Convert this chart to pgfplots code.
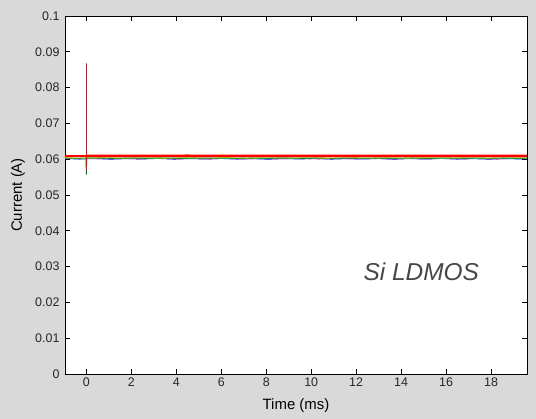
\documentclass[border=0pt]{standalone}
\usepackage{fontspec}
\setmainfont{Liberation Sans}
\usepackage{pgfplots}
\pgfplotsset{compat=1.18}
\definecolor{figbg}{RGB}{217,217,217}
\definecolor{txt}{RGB}{38,38,38}
\definecolor{mgreen}{RGB}{0,128,0}
\definecolor{mcyan}{RGB}{0,191,191}
\definecolor{mmag}{RGB}{191,0,191}
\definecolor{myel}{RGB}{191,191,0}
\begin{document}
\begin{tikzpicture}
\fill[figbg] (0,0) rectangle (536bp,419bp);
\begin{axis}[
  at={(65bp,45bp)}, anchor=south west,
  scale only axis, width=462bp, height=358bp,
  xmin=-0.95, xmax=19.6, ymin=0, ymax=0.1,
  xtick={0,2,4,6,8,10,12,14,16,18},
  xticklabels={0,2,4,6,8,10,12,14,16,18},
  ytick={0,0.01,0.02,0.03,0.04,0.05,0.06,0.07,0.08,0.09,0.1},
  yticklabels={0,0.01,0.02,0.03,0.04,0.05,0.06,0.07,0.08,0.09,0.1},
  /pgf/number format/assume math mode=true,
  tick align=inside, xtick pos=both, ytick pos=both,
  major tick length=5bp,
  tick style={black, line width=0.6bp},
  axis line style={black, line width=0.8bp},
  axis background/.style={fill=white},
  tick label style={font=\fontsize{12.5}{14}\selectfont, text=txt},
  yticklabel style={xshift=-2bp},
  xlabel={Time (ms)}, ylabel={Current (A)},
  label style={font=\fontsize{15}{18}\selectfont, text=black},
  xlabel style={at={(axis description cs:0.5,-0.087)}, anchor=center},
  ylabel style={at={(axis description cs:-0.1017,0.5)}, anchor=center},
  every axis plot/.append style={line width=0.8bp},
  clip=true,
]
% blue
\addplot[blue] coordinates {(-0.95,0.06020)(-0.3,0.06002)(0.4,0.06018)(1.1,0.06000)(1.8,0.06015)(2.5,0.06006)(3.2,0.06020)(3.9,0.06001)(4.6,0.06016)(5.3,0.06004)(6.0,0.06019)(6.7,0.06002)(7.4,0.06014)(8.1,0.05999)(8.8,0.06017)(9.5,0.06005)(10.2,0.06020)(10.9,0.06001)(11.6,0.06015)(12.3,0.06003)(13.0,0.06018)(13.7,0.06000)(14.4,0.06016)(15.1,0.06004)(15.8,0.06019)(16.5,0.06002)(17.2,0.06014)(17.9,0.06000)(18.6,0.06017)(19.3,0.06006)(19.6,0.06012)};
% magenta
\addplot[mmag] coordinates {(-0.95,0.06012)(-0.1,0.06026)(0.7,0.06010)(1.5,0.06024)(2.3,0.06008)(3.1,0.06025)(3.9,0.06011)(4.7,0.06023)(5.5,0.06009)(6.3,0.06026)(7.1,0.06010)(7.9,0.06024)(8.7,0.06012)(9.5,0.06025)(10.3,0.06008)(11.1,0.06023)(11.9,0.06011)(12.7,0.06026)(13.5,0.06009)(14.3,0.06024)(15.1,0.06010)(15.9,0.06025)(16.7,0.06012)(17.5,0.06023)(18.3,0.06008)(19.1,0.06024)(19.6,0.06015)};
% cyan
\addplot[mcyan] coordinates {(-0.95,0.06030)(-0.2,0.06018)(0.6,0.06032)(1.4,0.06020)(2.2,0.06033)(3.0,0.06017)(3.8,0.06031)(4.6,0.06021)(5.4,0.06034)(6.2,0.06019)(7.0,0.06030)(7.8,0.06018)(8.6,0.06033)(9.4,0.06020)(10.2,0.06031)(11.0,0.06017)(11.8,0.06034)(12.6,0.06021)(13.4,0.06030)(14.2,0.06019)(15.0,0.06032)(15.8,0.06018)(16.6,0.06033)(17.4,0.06020)(18.2,0.06031)(19.0,0.06018)(19.6,0.06030)};
% green
\addplot[mgreen] coordinates {(-0.95,0.06035)(-0.4,0.06022)(-0.02,0.06030)(0,0.05570)(0.02,0.06030)(0.5,0.06036)(1.2,0.06021)(1.9,0.06034)(2.6,0.06024)(3.3,0.06037)(4.0,0.06022)(4.7,0.06035)(5.4,0.06023)(6.1,0.06036)(6.8,0.06021)(7.5,0.06034)(8.2,0.06024)(8.9,0.06037)(9.6,0.06022)(10.3,0.06035)(11.0,0.06021)(11.7,0.06036)(12.4,0.06023)(13.1,0.06034)(13.8,0.06022)(14.5,0.06037)(15.2,0.06021)(15.9,0.06035)(16.6,0.06024)(17.3,0.06036)(18.0,0.06022)(18.7,0.06034)(19.4,0.06023)(19.6,0.06030)};
% yellow
\addplot[myel] coordinates {(-0.95,0.06040)(-0.1,0.06030)(0.8,0.06042)(1.7,0.06031)(2.6,0.06041)(3.5,0.06029)(4.4,0.06043)(5.3,0.06032)(6.2,0.06040)(7.1,0.06030)(8.0,0.06042)(8.9,0.06031)(9.8,0.06041)(10.7,0.06029)(11.6,0.06043)(12.5,0.06032)(13.4,0.06040)(14.3,0.06030)(15.2,0.06042)(16.1,0.06031)(17.0,0.06041)(17.9,0.06029)(18.8,0.06043)(19.6,0.06035)};
% red (on top)
\addplot[red, line width=2.6bp] coordinates {(-0.95,0.06092)(-0.02,0.06092)};
\addplot[red, line width=1bp] coordinates {(0,0.06092)(0,0.0868)(0,0.0568)(0,0.06092)};
\addplot[red, line width=2.6bp] coordinates {(0.02,0.06092)(2.0,0.06093)(4.5,0.06095)(7.0,0.06092)(9.5,0.06094)(12.0,0.06093)(14.5,0.06092)(17.0,0.06094)(19.6,0.06093)};
\node[font=\fontsize{24.5}{29}\selectfont\itshape, text=black!72] at (axis cs:14.9,0.0285) {Si LDMOS};
\end{axis}
\end{tikzpicture}
\end{document}
